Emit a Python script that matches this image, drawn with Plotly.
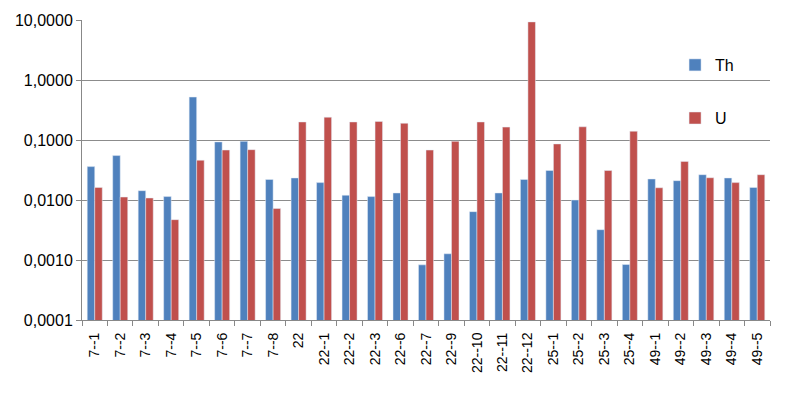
import plotly.graph_objects as go

categories = ["7--1", "7--2", "7--3", "7--4", "7--5", "7--6", "7--7", "7--8", "22",
              "22--1", "22--2", "22--3", "22--6", "22--7", "22--9", "22--10", "22--11", "22--12",
              "25--1", "25--2", "25--3", "25--4", "49--1", "49--2", "49--3", "49--4", "49--5"]
th_values = [0.036, 0.055, 0.0143, 0.0114, 0.52, 0.093, 0.095, 0.022, 0.0233,
             0.0195, 0.012, 0.0114, 0.0131, 0.00083, 0.00127, 0.0064, 0.0131, 0.022,
             0.031, 0.010, 0.0032, 0.00084, 0.0224, 0.021, 0.0264, 0.0233, 0.0162]
u_values = [0.0162, 0.0112, 0.0108, 0.0047, 0.046, 0.068, 0.069, 0.0072, 0.20,
            0.24, 0.20, 0.204, 0.19, 0.068, 0.095, 0.20, 0.164, 9.3,
            0.086, 0.166, 0.031, 0.14, 0.016, 0.044, 0.0235, 0.0195, 0.0264]
y_tickvals = [0.0001, 0.001, 0.01, 0.1, 1, 10]
y_ticktext = ["0,0001", "0,0010", "0,0100", "0,1000", "1,0000", "10,0000"]

fig = go.Figure()
fig.add_trace(go.Bar(x=categories, y=th_values, name="Th", marker_color="#4F81BD",
                     legend="legend"))
fig.add_trace(go.Bar(x=categories, y=u_values, name="U", marker_color="#C0504D",
                     legend="legend2"))

legend_common = dict(font=dict(family="Liberation Sans, Arial, sans-serif", size=16, color="#000"),
                     bgcolor="rgba(0,0,0,0)", xanchor="left", yanchor="middle",
                     itemwidth=30, tracegroupgap=0)

fig.update_layout(
    width=802, height=394,
    margin=dict(l=74, r=40, t=12, b=82, autoexpand=False),
    paper_bgcolor="white", plot_bgcolor="white",
    barmode="group", bargap=0.41, bargroupgap=0.0,
    font=dict(family="Liberation Sans, Arial, sans-serif", color="#000"),
    showlegend=True,
    legend=dict(x=0.862, y=0.85, **legend_common),
    legend2=dict(x=0.862, y=0.673, **legend_common),
    xaxis=dict(type="category", showgrid=False, showline=True, linecolor="#888", linewidth=1,
               ticks="outside", tickson="boundaries", ticklen=5, tickcolor="#888",
               ticklabelstandoff=6,
               tickangle=-90, tickfont=dict(size=14, color="#000"), automargin=False),
    yaxis=dict(type="log", range=[-4, 1], tickvals=y_tickvals, ticktext=y_ticktext,
               showgrid=True, gridcolor="#8c8c8c", gridwidth=1,
               showline=True, linecolor="#888", linewidth=1,
               ticks="outside", ticklen=5, tickcolor="#888",
               tickfont=dict(size=16, color="#000"), zeroline=False, automargin=False),
)

fig.write_html("out.html")
